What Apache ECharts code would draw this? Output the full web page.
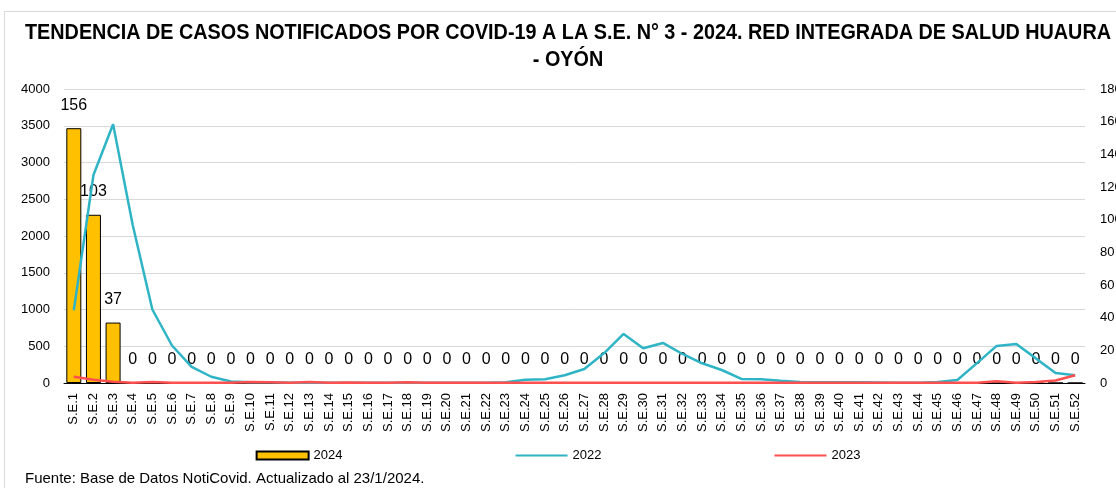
<!DOCTYPE html>
<html>
<head>
<meta charset="utf-8">
<script src="https://cdn.jsdelivr.net/npm/echarts@6/dist/echarts.min.js"></script>
<style>
  html, body { margin: 0; padding: 0; background: #fff; }
  #chart { width: 1116px; height: 488px; }
</style>
</head>
<body>
<div id="chart"></div>
<script>
// semanas epidemiológicas
const semanas = [
  'S.E.1', 'S.E.2', 'S.E.3', 'S.E.4', 'S.E.5', 'S.E.6', 'S.E.7', 'S.E.8', 'S.E.9', 'S.E.10',
  'S.E.11', 'S.E.12', 'S.E.13', 'S.E.14', 'S.E.15', 'S.E.16', 'S.E.17', 'S.E.18', 'S.E.19', 'S.E.20',
  'S.E.21', 'S.E.22', 'S.E.23', 'S.E.24', 'S.E.25', 'S.E.26', 'S.E.27', 'S.E.28', 'S.E.29', 'S.E.30',
  'S.E.31', 'S.E.32', 'S.E.33', 'S.E.34', 'S.E.35', 'S.E.36', 'S.E.37', 'S.E.38', 'S.E.39', 'S.E.40',
  'S.E.41', 'S.E.42', 'S.E.43', 'S.E.44', 'S.E.45', 'S.E.46', 'S.E.47', 'S.E.48', 'S.E.49', 'S.E.50',
  'S.E.51', 'S.E.52'
]

// casos 2024 (eje derecho)
const casos2024 = [
  156, 103, 37, 0, 0, 0, 0, 0, 0, 0,
  0, 0, 0, 0, 0, 0, 0, 0, 0, 0,
  0, 0, 0, 0, 0, 0, 0, 0, 0, 0,
  0, 0, 0, 0, 0, 0, 0, 0, 0, 0,
  0, 0, 0, 0, 0, 0, 0, 0, 0, 0,
  0, 0
]

// casos 2022 (eje izquierdo)
const casos2022 = [
  990, 2830, 3520, 2150, 1000, 510, 220, 85, 20, 10,
  10, 5, 5, 5, 5, 5, 5, 5, 5, 5,
  5, 5, 10, 45, 50, 105, 190, 404, 667, 472,
  545, 395, 268, 177, 55, 50, 32, 15, 10, 10,
  10, 8, 5, 5, 14, 40, 270, 505, 530, 335,
  135, 105
]

// casos 2023 (eje izquierdo)
const casos2023 = [
  86, 45, 18, 5, 12, 3, 2, 3, 5, 15,
  10, 5, 15, 5, 8, 5, 5, 10, 5, 3,
  3, 3, 3, 4, 4, 4, 4, 4, 4, 4,
  4, 4, 4, 4, 4, 4, 4, 4, 4, 4,
  3, 3, 3, 3, 3, 3, 3, 25, 5, 12,
  35, 105
]

const ticksIzq = { min: 0, max: 4000, interval: 500 }
const ticksDer = { min: 0, max: 180, interval: 20 }

const chart = echarts.init(document.getElementById('chart'), null, { renderer: 'canvas' })
const fuente = 'Liberation Sans, Arial, sans-serif'
const titulo = 'TENDENCIA DE CASOS NOTIFICADOS POR COVID-19 A LA S.E. N° 3 - 2024. RED INTEGRADA DE SALUD HUAURA\n- OYÓN'

chart.setOption({
  animation: false,
  backgroundColor: '#fff',
  legend: {
    bottom: 21,
    left: 'center',
    itemWidth: 52,
    itemHeight: 8,
    itemGap: 172,
    textStyle: { fontFamily: fuente, fontSize: 13, color: '#000' },
    data: [
      { name: '2024', icon: 'rect' },
      { name: '2022', itemStyle: { color: 'rgba(0,0,0,0)', borderWidth: 0, opacity: 0 } },
      { name: '2023', itemStyle: { color: 'rgba(0,0,0,0)', borderWidth: 0, opacity: 0 } }
    ]
  },
  grid: {
    left: 64,
    right: 31,
    top: 89,
    bottom: 105,
    outerBoundsMode: 'none'
  },
  xAxis: {
    type: 'category',
    data: semanas,
    axisLine: { show: true, lineStyle: { color: '#000', width: 1 } },
    axisTick: { show: false },
    axisLabel: {
      rotate: 90,
      interval: 0,
      margin: 10,
      fontFamily: fuente,
      fontSize: 13,
      color: '#000'
    }
  },
  yAxis: [
    {
      type: 'value',
      min: ticksIzq.min,
      max: ticksIzq.max,
      interval: ticksIzq.interval,
      axisLine: { show: false },
      axisTick: { show: false },
      splitLine: { lineStyle: { color: '#d9d9d9', width: 1 } },
      axisLabel: { margin: 14, fontFamily: fuente, fontSize: 13, color: '#000', formatter: (v) => String(v) }
    },
    {
      type: 'value',
      min: ticksDer.min,
      max: ticksDer.max,
      interval: ticksDer.interval,
      axisLine: { show: false },
      axisTick: { show: false },
      splitLine: { show: false },
      axisLabel: { margin: 15, fontFamily: fuente, fontSize: 13, color: '#000', formatter: (v) => String(v) }
    }
  ],
  series: [
    {
      name: '2024',
      type: 'bar',
      yAxisIndex: 1,
      data: casos2024,
      barWidth: 15,
      itemStyle: { color: '#ffc000', borderColor: '#000', borderWidth: 1 },
      label: {
        show: true,
        position: 'top',
        distance: 15,
        fontFamily: fuente,
        fontSize: 16,
        color: '#000'
      }
    },
    {
      name: '2022',
      type: 'line',
      yAxisIndex: 0,
      data: casos2022,
      symbol: 'none',
      lineStyle: { color: '#2fb4c6', width: 2.5 },
      itemStyle: { color: '#2fb4c6' }
    },
    {
      name: '2023',
      type: 'line',
      yAxisIndex: 0,
      data: casos2023,
      symbol: 'none',
      lineStyle: { color: '#ff5050', width: 2.5 },
      itemStyle: { color: '#ff5050' }
    }
  ],
  graphic: [
    {
      type: 'polyline',
      shape: { points: [[4.5, 488], [4.5, 11.5], [1116, 11.5]] },
      style: { stroke: '#d9d9d9', lineWidth: 1, fill: null },
      silent: true
    },
    {
      type: 'text',
      x: 568,
      y: 19,
      scaleX: 0.9,
      style: {
        text: titulo,
        textAlign: 'center',
        textVerticalAlign: 'top',
        font: 'bold 22px Liberation Sans, Arial, sans-serif',
        lineHeight: 27,
        fill: '#000'
      }
    },
    {
      type: 'text',
      left: 25,
      top: 471,
      style: {
        text: 'Fuente: Base de Datos NotiCovid. Actualizado al 23/1/2024.',
        font: '15px Liberation Sans, Arial, sans-serif',
        fill: '#000'
      }
    }
  ]
})

window.addEventListener('resize', () => chart.resize())
</script>
</body>
</html>
